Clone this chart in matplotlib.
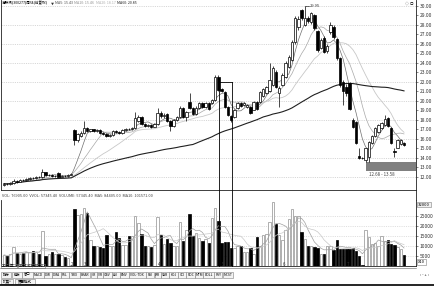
import numpy as np
import pandas as pd
import matplotlib.pyplot as plt
from matplotlib.patches import Rectangle
from matplotlib.lines import Line2D

# 字体设置
plt.rcParams['font.family'] = ['Noto Sans CJK SC', 'DejaVu Sans']
plt.rcParams['axes.unicode_minus'] = False

# 周K线数据（开、收、高、低、成交量）
opens = [11.20, 11.30, 11.25, 11.40, 11.60, 11.50, 11.70, 11.65, 11.80, 11.90,
         11.85, 12.00, 11.95, 12.50, 12.20, 12.25, 12.10, 12.40, 12.05, 12.15,
         12.10, 12.25, 16.90, 15.90, 16.30, 16.60, 17.20, 16.80, 17.00, 16.80,
         16.90, 16.60, 16.50, 16.30, 16.40, 16.80, 16.70, 16.60, 16.90, 17.10,
         17.00, 17.20, 17.90, 18.30, 17.60, 17.40, 17.50, 17.30, 17.60, 18.70,
         18.40, 18.60, 17.90, 17.40, 18.00, 18.30, 19.30, 18.30, 19.90, 19.30,
         18.60, 19.30, 19.80, 19.40, 19.80, 19.80, 20.10, 22.50, 21.30, 20.90,
         19.40, 18.40, 18.30, 19.30, 19.80, 19.55, 19.40, 19.40, 19.10, 19.90,
         19.90, 20.50, 20.80, 21.00, 21.70, 23.10, 20.80, 21.70, 22.50, 23.60,
         24.30, 26.20, 27.80, 29.60, 28.00, 28.70, 28.30, 29.10, 27.40, 25.60,
         26.60, 25.30, 27.30, 27.80, 26.50, 24.50, 22.00, 21.50, 21.90, 18.00,
         17.80, 14.20, 14.05, 13.80, 14.10, 15.60, 16.30, 16.70, 17.20, 17.50,
         18.20, 17.20, 14.70, 15.10, 15.50, 15.60]
closes = [11.30, 11.25, 11.40, 11.60, 11.50, 11.70, 11.65, 11.80, 11.90, 11.85,
          12.00, 11.95, 12.50, 12.20, 12.25, 12.10, 12.15, 12.05, 12.15, 12.10,
          12.25, 12.30, 15.90, 16.50, 16.60, 17.20, 16.80, 17.00, 16.80, 16.90,
          16.60, 16.50, 16.30, 16.40, 16.80, 16.70, 16.60, 16.90, 17.10, 17.00,
          17.20, 18.20, 18.30, 17.60, 17.40, 17.50, 17.30, 17.60, 18.70, 18.40,
          18.50, 17.90, 17.40, 18.00, 18.30, 19.30, 18.30, 18.80, 19.30, 18.60,
          19.30, 19.80, 19.40, 19.80, 19.20, 20.10, 22.50, 21.20, 21.00, 19.40,
          18.50, 17.95, 19.10, 19.80, 19.50, 19.75, 19.60, 18.70, 19.90, 19.20,
          20.90, 21.30, 21.50, 22.20, 23.50, 21.50, 21.40, 22.70, 24.00, 24.60,
          26.20, 28.70, 28.60, 28.70, 28.70, 28.40, 29.30, 27.70, 25.40, 26.40,
          25.20, 25.80, 28.00, 26.70, 24.50, 21.70, 21.00, 20.80, 19.20, 17.30,
          15.60, 14.00, 13.95, 15.00, 15.70, 16.30, 17.20, 17.50, 17.70, 18.10,
          17.40, 15.60, 14.60, 15.90, 15.90, 15.40]
highs = [11.40, 11.40, 11.50, 11.80, 11.70, 11.80, 11.80, 11.90, 12.00, 12.00,
         12.10, 12.10, 12.80, 12.55, 12.35, 12.30, 12.25, 12.50, 12.25, 12.25,
         12.35, 12.40, 17.00, 16.60, 16.80, 17.90, 17.30, 17.10, 17.10, 17.00,
         17.00, 16.70, 16.60, 16.50, 16.90, 16.90, 16.80, 17.00, 17.20, 17.20,
         17.30, 18.80, 18.50, 18.40, 17.70, 17.60, 17.60, 17.70, 19.30, 18.90,
         18.70, 18.70, 18.00, 18.10, 18.40, 19.50, 19.40, 18.90, 20.80, 19.40,
         19.50, 19.90, 19.90, 19.90, 19.90, 20.20, 22.70, 22.70, 21.40, 21.00,
         19.50, 18.50, 19.20, 19.90, 19.90, 19.85, 19.70, 19.50, 20.00, 20.00,
         21.00, 21.40, 21.60, 24.00, 23.70, 23.30, 21.60, 22.90, 24.20, 24.80,
         26.40, 28.90, 28.90, 29.70, 29.95, 28.90, 29.40, 29.20, 27.50, 26.60,
         26.80, 26.00, 28.30, 28.00, 26.60, 24.60, 22.20, 21.80, 22.00, 18.20,
         17.90, 15.00, 14.10, 15.10, 15.80, 16.40, 17.30, 17.60, 17.80, 18.50,
         18.30, 17.30, 15.00, 16.00, 16.00, 15.70]
lows = [11.10, 11.15, 11.20, 11.30, 11.40, 11.45, 11.55, 11.60, 11.70, 11.75,
        11.80, 11.85, 11.90, 12.10, 12.10, 12.00, 12.00, 12.00, 11.95, 12.00,
        12.05, 12.20, 15.40, 15.70, 16.20, 16.50, 16.70, 16.70, 16.70, 16.70,
        16.50, 16.40, 16.20, 16.20, 16.30, 16.60, 16.50, 16.50, 16.80, 16.90,
        16.90, 17.10, 17.80, 17.50, 17.30, 17.30, 17.20, 17.25, 17.50, 18.20,
        18.20, 17.80, 16.80, 17.30, 17.90, 18.20, 18.20, 17.90, 19.20, 18.50,
        18.50, 19.20, 19.30, 19.30, 19.10, 19.70, 20.00, 21.00, 20.90, 19.30,
        18.40, 17.80, 18.20, 19.20, 19.40, 19.45, 19.30, 18.60, 19.00, 19.10,
        19.80, 20.40, 20.70, 20.90, 21.60, 21.40, 19.40, 21.60, 22.40, 23.50,
        24.20, 26.00, 27.50, 28.50, 27.90, 28.20, 28.10, 27.50, 25.20, 25.50,
        25.00, 25.10, 27.00, 26.50, 24.30, 21.50, 19.60, 20.50, 19.00, 17.20,
        15.50, 13.90, 13.85, 13.60, 13.58, 15.50, 16.20, 16.60, 17.10, 17.40,
        17.30, 15.50, 14.10, 15.00, 15.40, 15.30]
volumes = [55000, 50000, 60000, 95000, 65000, 60000, 65000, 70000, 68000, 75000,
           72000, 60000, 175000, 52000, 60000, 70000, 62000, 60000, 55000, 45000,
           40000, 5000, 285000, 255000, 258000, 290000, 265000, 130000, 100000, 100000,
           95000, 90000, 155000, 100000, 100000, 170000, 140000, 105000, 105000, 150000,
           150000, 250000, 215000, 160000, 100000, 100000, 95000, 105000, 245000, 155000,
           110000, 135000, 115000, 100000, 100000, 220000, 125000, 180000, 260000, 150000,
           165000, 140000, 125000, 135000, 115000, 240000, 290000, 225000, 115000, 120000,
           120000, 90000, 90000, 100000, 100000, 70000, 70000, 90000, 60000, 145000,
           100000, 155000, 160000, 220000, 320000, 210000, 155000, 130000, 180000, 235000,
           285000, 250000, 250000, 170000, 135000, 100000, 100000, 95000, 90000, 60000,
           60000, 100000, 100000, 80000, 130000, 85000, 85000, 85000, 85000, 90000,
           75000, 50000, 5000, 180000, 145000, 110000, 115000, 100000, 150000, 125000,
           130000, 110000, 105000, 95000, 85000, 55000]

ma_periods = [5, 10, 20, 60]
ma_colors = ['#707070', '#a8a8a8', '#c8c8c8', '#202020']
ma_widths = [0.5, 0.5, 0.6, 0.8]
# 标题栏显示的均线数值
ma_title_vals = ['15.43', '15.46', '18.17', '20.85']
ma_title_colors = ['#505050', '#909090', '#b0b0b0', '#202020']

# 框选区间、缺口区域、峰值标注
box_left, box_right, box_top = 67.3, 71.2, 22.0
gap_start, gap_low, gap_high = 113.0, 12.68, 13.58
peak_idx, peak_val = 94, 29.95

price_ticks = np.arange(12, 31, 1)
vol_ticks = [50000, 100000, 150000, 200000, 250000]

month_idx = [21, 25, 48, 68, 87, 107]
month_labels = ['2', '3', '4', '5', '6', '7']

tabs = ['指标', '模板', '窗口', 'MACD', 'DMI', 'DMA', 'FSL', 'TRIX', 'BRAR', 'CR',
        'VR', 'OBV', 'ASI', 'EMV', 'VOL-TDX', 'RSI', 'WR', 'SAR', 'KDJ', 'CCI',
        'ROC', 'MTM', 'BOLL', 'PSY', 'MCST']

df = pd.DataFrame({'o': opens, 'c': closes, 'h': highs, 'l': lows, 'v': volumes})
x = np.arange(len(df))
up = df['c'] >= df['o']

W, H = 434, 286
fig = plt.figure(figsize=(W / 100, H / 100), dpi=100)
fig.patch.set_facecolor('white')


def box(x0, y0, x1, y1):
    return [x0 / W, 1 - y1 / H, (x1 - x0) / W, (y1 - y0) / H]


def fx(px):
    return px / W


def fy(py):
    return 1 - py / H


ax = fig.add_axes(box(1, 0, 416, 190))
axv = fig.add_axes(box(1, 200, 416, 266))
xlim = (-0.95, 128.75)

for a in (ax, axv):
    a.set_xlim(*xlim)
    a.set_xticks([])
    a.yaxis.tick_right()
    a.tick_params(axis='y', length=1.5, width=0.4, pad=1, labelsize=3.5, colors='#303030')
    a.spines['top'].set_visible(False)
    for s in ['left', 'right', 'bottom']:
        a.spines[s].set_linewidth(0.6)
        a.spines[s].set_color('#202020')

# 主图：K线
ax.set_ylim(10.63, 30.63)
ax.set_yticks(price_ticks)
ax.set_yticklabels([f'{p:.2f}' for p in price_ticks])
for p in price_ticks[::2]:
    ax.axhline(p, color='#b8b8b8', lw=0.4, ls=(0, (2, 2)), zorder=0)

ax.vlines(x, df['l'], df['h'], color='black', lw=0.5, zorder=2)
body_bottom = np.minimum(df['o'], df['c'])
body_h = np.maximum(np.abs(df['c'] - df['o']), 0.04)
ax.bar(x[up], body_h[up], bottom=body_bottom[up], width=0.72,
       facecolor='white', edgecolor='black', lw=0.5, zorder=3)
ax.bar(x[~up], body_h[~up], bottom=body_bottom[~up], width=0.72,
       facecolor='black', edgecolor='black', lw=0.5, zorder=3)

# 均线
for n, col, lw in zip(ma_periods, ma_colors, ma_widths):
    ma = df['c'].rolling(n, min_periods=1).mean()
    ax.plot(x, ma, color=col, lw=lw, zorder=1)

# 缺口区域
ax.add_patch(Rectangle((gap_start, gap_low), xlim[1] - gap_start, gap_high - gap_low,
                       facecolor='#808080', edgecolor='none', zorder=1))
ax.text(gap_start + 1, gap_low - 0.15, f'{gap_low:.2f} - {gap_high:.2f}',
        fontsize=3.2, color='#404040', va='top', ha='left')

# 峰值标注
ax.plot([peak_idx, peak_idx + 1.3], [peak_val, peak_val], color='black', lw=0.4)
ax.text(peak_idx + 1.5, peak_val, f'{peak_val:.2f}', fontsize=3.0, va='center',
        ha='left', color='#303030')

# 成交量（坐标以×10显示）
axv.set_ylim(0, 330000)
axv.set_yticks(vol_ticks)
axv.set_yticklabels([str(v // 10) for v in vol_ticks])
for v in vol_ticks:
    axv.axhline(v, color='#c8c8c8', lw=0.4, ls=(0, (2, 2)), zorder=0)
axv.bar(x[up], df['v'][up], width=0.72, facecolor='white', edgecolor='#909090', lw=0.5)
axv.bar(x[~up], df['v'][~up], width=0.72, facecolor='black', edgecolor='black', lw=0.5)
for n, col in zip([5, 10], ['#a0a0a0', '#c8c8c8']):
    axv.plot(x, df['v'].rolling(n, min_periods=1).mean(), color=col, lw=0.5)
axv.text(1.005, 0.06, 'X10', transform=axv.transAxes, fontsize=3.0, va='center', ha='left',
         bbox=dict(boxstyle='square,pad=0.15', fc='white', ec='#808080', lw=0.4))
axv.text(1.005, 0.93, f'{df["v"].max() // 10}', transform=axv.transAxes, fontsize=3.0,
         va='center', ha='left',
         bbox=dict(boxstyle='square,pad=0.15', fc='#f0f0f0', ec='#808080', lw=0.4))

# 框选竖线（跨主图与量图）
inv = fig.transFigure.inverted()
tl = inv.transform(ax.transData.transform((box_left, box_top)))
tr = inv.transform(ax.transData.transform((box_right, box_top)))
bl = inv.transform(axv.transData.transform((box_left, 0)))
br = inv.transform(axv.transData.transform((box_right, 0)))
fig.add_artist(Line2D([tl[0], tr[0]], [tl[1], tr[1]], color='black', lw=0.6))
fig.add_artist(Line2D([tl[0], bl[0]], [tl[1], bl[1]], color='black', lw=0.6))
fig.add_artist(Line2D([tr[0], br[0]], [tr[1], br[1]], color='black', lw=0.6))

# 标题栏
fig.text(fx(2), fy(3.5), '海联讯(300277)周线(前复权)', fontsize=2.6,
         va='center', ha='left', color='black')
fig.text(fx(51), fy(3.5), '▼', fontsize=2.2, va='center', ha='left', color='#303030')
xt = 55
for n, val, col in zip(ma_periods, ma_title_vals, ma_title_colors):
    s = f'MA{n}: {val}'
    fig.text(fx(xt), fy(3.5), s, fontsize=2.6, va='center', ha='left', color=col)
    xt += 1.75 * len(s) + 2
fig.text(fx(409), fy(3.5), '◇ ◎', fontsize=2.8, va='center', ha='center', color='#404040')

# 量图标题
fig.text(fx(2), fy(196), 'VOL: 76905.00  VVOL: 57345.40  VOLUME: 57345.40  MA5: 84405.00  MA10: 101571.00',
         fontsize=2.8, va='center', ha='left', color='#404040')

# 时间轴
for i, lab in zip(month_idx, month_labels):
    xf = inv.transform(axv.transData.transform((i, 0)))[0]
    fig.text(xf, fy(264.5), lab, fontsize=3.2, va='center', ha='left', color='#303030')
fig.add_artist(Line2D([0, fx(416)], [fy(268), fy(268)], color='#606060', lw=0.4))
for x0, x1, lab in [(1, 17, '2011年'), (18, 45, '2011-03/2012')]:
    fig.add_artist(Rectangle((fx(x0), fy(268)), fx(x1 - x0), 4.5 / H, fill=False,
                             edgecolor='#808080', lw=0.4))
    fig.text(fx(x0 + 1), fy(265.7), lab, fontsize=2.8, va='center', ha='left')

# 指标标签栏
px = 1
for t in tabs:
    w = 2.2 * sum(2 if ord(ch) > 255 else 1 for ch in t) + 1.6
    fig.add_artist(Rectangle((fx(px), fy(277.5)), fx(w), 6 / H, facecolor='#f4f4f4',
                             edgecolor='#808080', lw=0.4))
    fig.text(fx(px + w / 2), fy(274.5), t, fontsize=2.4, va='center', ha='center')
    px += w + 0.3
for x0, x1, lab in [(1, 13, '扩展^'), (15, 35, '页面模式')]:
    fig.add_artist(Rectangle((fx(x0), fy(284)), fx(x1 - x0), 5.5 / H, facecolor='#f4f4f4',
                             edgecolor='#808080', lw=0.4))
    fig.text(fx((x0 + x1) / 2), fy(281.2), lab, fontsize=2.5, va='center', ha='center')
fig.text(fx(425), fy(274.5), '‹ - + ›', fontsize=3.0, va='center', ha='center')
fig.add_artist(Line2D([0, 1], [fy(285.3), fy(285.3)], color='black', lw=1.2))
fig.add_artist(Line2D([fx(416), fx(416)], [fy(190), fy(200)], color='#202020', lw=0.6))

fig.savefig('out.png', dpi=100, facecolor='white')
